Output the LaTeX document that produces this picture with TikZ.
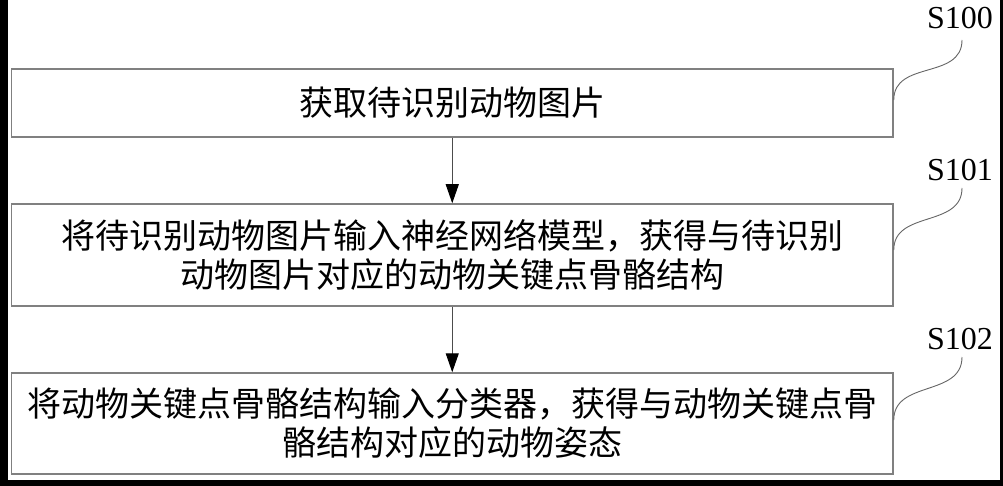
\documentclass[tikz,border=0pt]{standalone}
\usepackage{fontspec}
\newfontfamily\cjk{Noto Sans CJK SC}
\newfontfamily\labfont{Liberation Serif}
\usetikzlibrary{arrows.meta,calc}
\begin{document}
\begin{tikzpicture}[x=1pt,y=-1pt,
  stepbox/.style={draw=black!50,line width=1.5pt,minimum width=881.5pt,inner sep=0pt,align=center,
    font=\cjk\fontsize{34}{39}\selectfont},
  flow/.style={draw=black!70,line width=1pt,-{Triangle[length=19pt,width=13pt,color=black]}},
  leader/.style={draw=black!60,line width=0.9pt},
  steplabel/.style={font=\labfont\fontsize{32}{32}\selectfont,inner sep=0pt}]
\useasboundingbox (0,0) rectangle (1003,486);
\fill[white] (0,0) rectangle (1003,486);
% scan frame
\fill[black] (0,0) rectangle (8,486);
\fill[black] (0,480) rectangle (1003,486);
\fill[black] (999.5,0) rectangle (1003,486);
% boxes
\node[stepbox,minimum height=68pt] (b1) at (452.25,103) {获取待识别动物图片};
\node[stepbox,minimum height=102pt] (b2) at (452.25,255) {将待识别动物图片输入神经网络模型，获得与待识别\\动物图片对应的动物关键点骨骼结构};
\node[stepbox,minimum height=101pt] (b3) at (452.25,423.5) {将动物关键点骨骼结构输入分类器，获得与动物关键点骨\\骼结构对应的动物姿态};
% arrows
\draw[flow] (b1.south) -- (b2.north);
\draw[flow] (b2.south) -- (b3.north);
% labels
\node[steplabel] (l1) at (960,18) {S100};
\node[steplabel] (l2) at (960,170) {S101};
\node[steplabel] (l3) at (960,339) {S102};
\coordinate (e1) at (962,40);
\coordinate (e2) at (962,188);
\coordinate (e3) at (962,357);
\coordinate (s1) at ($(b1.east)+(0,-3)$);
\coordinate (s2) at ($(b2.east)+(0,-5)$);
\coordinate (s3) at ($(b3.east)+(0,-3.5)$);
\draw[leader] (s1) .. controls ($(s1)+(0,-40)$) and ($(e1)+(0,40)$) .. (e1);
\draw[leader] (s2) .. controls ($(s2)+(0,-40)$) and ($(e2)+(0,40)$) .. (e2);
\draw[leader] (s3) .. controls ($(s3)+(0,-40)$) and ($(e3)+(0,40)$) .. (e3);
\end{tikzpicture}
\end{document}
